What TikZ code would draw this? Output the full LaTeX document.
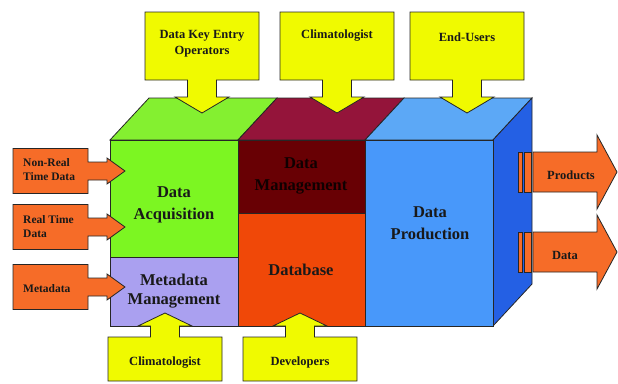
\documentclass[tikz,border=0pt]{standalone}
\usepackage{fontspec}
\setmainfont{Liberation Serif}
\begin{document}
\begin{tikzpicture}[x=1pt,y=-1pt,
  outline/.style={draw=black!85, line width=0.8pt, line join=miter},
  lbl/.style={font=\bfseries, text=black!90, align=center, inner sep=0pt},
  biglbl/.style={lbl, font=\bfseries\fontsize{16.5}{22}\selectfont},
  smalllbl/.style={lbl, font=\bfseries\fontsize{12.5}{16}\selectfont},
  tinylbl/.style={lbl, font=\bfseries\fontsize{11.5}{14}\selectfont, align=left}]
\definecolor{lime}{RGB}{124,246,34}
\definecolor{limetop}{RGB}{132,240,48}
\definecolor{wine}{RGB}{104,0,4}
\definecolor{winetop}{RGB}{148,20,58}
\definecolor{vermil}{RGB}{240,72,8}
\definecolor{lilac}{RGB}{170,160,240}
\definecolor{sky}{RGB}{72,152,250}
\definecolor{skytop}{RGB}{92,168,246}
\definecolor{skyside}{RGB}{36,96,228}
\definecolor{lemon}{RGB}{240,250,0}
\definecolor{tangerine}{RGB}{246,108,40}

\fill[white] (0,0) rectangle (618,383);
\useasboundingbox (0,0) rectangle (618,383);

% --- top faces of the block
\path[outline, fill=limetop] (110,140) -- (238,140) -- (277,98) -- (149,98) -- cycle;
\path[outline, fill=winetop] (238,140) -- (365,140) -- (404,98) -- (277,98) -- cycle;
\path[outline, fill=skytop]  (365,140) -- (493,140) -- (532,98) -- (404,98) -- cycle;
% --- right side face
\path[outline, fill=skyside] (493,140) -- (532,98) -- (532,284) -- (493,326) -- cycle;
% --- front faces
\path[outline, fill=lime]   (110,140) rectangle (238,257);
\path[outline, fill=lilac]  (110,257) rectangle (238,326);
\path[outline, fill=wine]   (238,140) rectangle (365,213);
\path[outline, fill=vermil] (238,213) rectangle (365,326);
\path[outline, fill=sky]    (365,140) rectangle (493,326);

\node[biglbl] (acq)  at (174,205) {Data\\Acquisition};
\node[biglbl, font=\bfseries\fontsize{16.5}{19}\selectfont] (meta) at (174,291) {Metadata\\Management};
\node[biglbl, text=black!85!wine] (mgmt) at (301,176) {Data\\Management};
\node[biglbl] (db)   at (301,270) {Database};
\node[biglbl] (prod) at (430,223) {Data\\Production};

% --- downward callouts above the block: centre x
\foreach \cx in {202, 337, 467}{
  \path[outline, fill=lemon]
    (\cx-57,12) -- (\cx+57,12) -- (\cx+57,80) -- (\cx+14.5,80) -- (\cx+14.5,97)
    -- (\cx+27,97) -- (\cx,113) -- (\cx-27,97) -- (\cx-14.5,97) -- (\cx-14.5,80)
    -- (\cx-57,80) -- cycle;
}
\node[smalllbl] (t1) at (202,44) {Data Key Entry\\Operators};
\node[smalllbl] (t2) at (337,36) {Climatologist};
\node[smalllbl] (t3) at (467,37) {End-Users};

% --- upward callouts below the block
\foreach \cx in {165, 300}{
  \path[outline, fill=lemon]
    (\cx-57,381) -- (\cx+57,381) -- (\cx+57,337) -- (\cx+14.5,337) -- (\cx+14.5,326)
    -- (\cx+27,326) -- (\cx,313) -- (\cx-27,326) -- (\cx-14.5,326) -- (\cx-14.5,337)
    -- (\cx-57,337) -- cycle;
}
\node[smalllbl] (b1) at (165,363) {Climatologist};
\node[smalllbl] (b2) at (300,362) {Developers};

% --- input callouts on the left: centre y
\foreach \cy in {171, 227, 287}{
  \path[outline, fill=tangerine]
    (13,\cy-22.5) -- (88,\cy-22.5) -- (88,\cy-9) -- (107,\cy-9) -- (107,\cy-13)
    -- (125,\cy) -- (107,\cy+13) -- (107,\cy+9) -- (88,\cy+9) -- (88,\cy+22.5)
    -- (13,\cy+22.5) -- cycle;
}
\node[tinylbl, anchor=west] (in1) at (23,170) {Non-Real\\Time Data};
\node[tinylbl, anchor=west] (in2) at (23,227) {Real Time\\Data};
\node[tinylbl, anchor=west] (in3) at (23,289) {Metadata};

% --- striped output arrows on the right
\foreach \cy in {172, 252}{
  \path[outline, fill=tangerine] (518,\cy-20) rectangle (522,\cy+20);
  \path[outline, fill=tangerine] (524.5,\cy-20) rectangle (531,\cy+20);
  \path[outline, fill=tangerine]
    (533,\cy-20) -- (597,\cy-20) -- (597,\cy-37) -- (617,\cy) -- (597,\cy+37)
    -- (597,\cy+20) -- (533,\cy+20) -- cycle;
}
\node[smalllbl] (out1) at (571,175) {Products};
\node[smalllbl] (out2) at (565,255) {Data};
\end{tikzpicture}
\end{document}
